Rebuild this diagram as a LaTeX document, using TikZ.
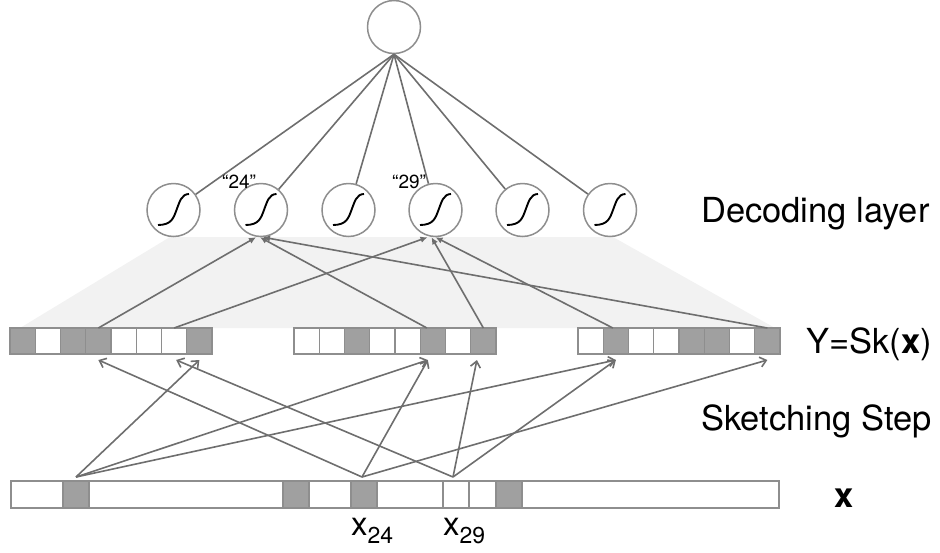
\documentclass[tikz,border=0pt]{standalone}
\usepackage{fontspec}
\setmainfont{TeX Gyre Heros}
\usetikzlibrary{arrows.meta}
\definecolor{lc}{HTML}{6E6E6E}
\definecolor{bc}{HTML}{8E8E8E}
\definecolor{cg}{HTML}{A0A0A0}
\definecolor{sh}{HTML}{F2F2F2}
\tikzset{
  wire/.style={draw=lc, line width=1.6pt},
  sarr/.style={wire, -{Straight Barb[length=6pt,width=10pt]}},
  darr/.style={wire, -{Latex[length=7pt,width=6.5pt]}},
  cell/.style={draw=bc, line width=1.4pt, minimum width=25.25pt, minimum height=26pt,
    inner sep=0pt, outer sep=0pt, anchor=north west},
  xcell/.style={cell, minimum height=27pt},
  neuron/.style={circle, draw=bc, line width=1.5pt, fill=white, minimum size=53pt, inner sep=0pt},
  lbl/.style={anchor=base west, inner sep=0pt, font=\fontsize{34.5}{40}\selectfont},
  qlbl/.style={anchor=base west, inner sep=0pt, font=\fontsize{19}{20}\selectfont},
  xlbl/.style={anchor=base west, inner sep=0pt, font=\fontsize{33}{34}\selectfont},
  sigm/.pic={\draw[black, line width=1.9pt] (-15.5pt,-15pt) .. controls (-2pt,-15pt) and (0pt,-8pt) .. (3pt,0pt) .. controls (6pt,8pt) and (8pt,16pt) .. (15.5pt,16pt);}
}
\begin{document}
\begin{tikzpicture}[x=1pt,y=-1pt]
\useasboundingbox (0,0) rectangle (940,552);
% shaded projection
\fill[sh] (20,328) -- (170,237) -- (613,237) -- (775,328) -- cycle;
% sketch cells
\foreach \i/\f in {1/cg,2/white,3/cg,4/cg,5/white,6/white,7/white,8/cg}
  \node[cell, fill=\f] (L\i) at ({10+(\i-1)*25.25},328) {};
\foreach \i/\f in {1/white,2/white,3/cg,4/white,5/white,6/cg,7/white,8/cg}
  \node[cell, fill=\f] (M\i) at ({294+(\i-1)*25.25},328) {};
\foreach \i/\f in {1/white,2/cg,3/white,4/white,5/cg,6/cg,7/white,8/cg}
  \node[cell, fill=\f] (R\i) at ({578+(\i-1)*25.25},328) {};
% x row
\node[xcell, fill=white, minimum width=52pt]  (X0)  at (11,481) {};
\node[xcell, fill=cg,    minimum width=26pt]  (X1)  at (63,481) {};
\node[xcell, fill=white, minimum width=194pt] (X2)  at (89,481) {};
\node[xcell, fill=cg,    minimum width=26pt]  (X3)  at (283,481) {};
\node[xcell, fill=white, minimum width=42pt]  (X4)  at (309,481) {};
\node[xcell, fill=cg,    minimum width=26pt]  (X5)  at (351,481) {};
\node[xcell, fill=white, minimum width=66pt]  (X6)  at (377,481) {};
\node[xcell, fill=white, minimum width=26pt]  (X7)  at (443,481) {};
\node[xcell, fill=white, minimum width=27pt]  (X8)  at (469,481) {};
\node[xcell, fill=cg,    minimum width=26pt]  (X9)  at (496,481) {};
\node[xcell, fill=white, minimum width=257pt] (X10) at (522,481) {};
% neurons
\node[neuron] (top) at (394,27) {};
\foreach \i/\x in {1/173.5,2/261,3/348.5,4/435.5,5/522.5,6/610}{
  \node[neuron] (s\i) at (\x,210) {};
  \pic at (s\i) {sigm};
}
\foreach \i in {1,...,6} \draw[wire] (top.south) -- (s\i);
% decoding arrows
\draw[darr] (L4.north) -- ([xshift=-5pt]s2.south);
\draw[darr] ([xshift=-6pt]M6.north) -- ([xshift=-1pt]s2.south);
\draw[darr] (R8.north) -- ([xshift=2pt]s2.south);
\draw[darr] (L7.north) -- ([xshift=-8pt]s4.south);
\draw[darr] (M8.north) -- ([xshift=-4pt]s4.south);
\draw[darr] ([xshift=-3pt]R2.north) -- ([xshift=0pt]s4.south);
% sketching arrows
\coordinate (a) at (76,477);
\coordinate (b) at (362,477);
\coordinate (c) at (453,477);
\draw[sarr] (a) -- ([yshift=-6pt]L8.south);
\draw[sarr] (a) -- ([xshift=-5pt,yshift=-6pt]M6.south);
\draw[sarr] (a) -- ([yshift=-6pt]R2.south);
\draw[sarr] (b) -- ([yshift=-6pt]L4.south);
\draw[sarr] (b) -- ([xshift=-5pt,yshift=-6pt]M6.south);
\draw[sarr] (b) -- ([yshift=-6pt]R8.south);
\draw[sarr] (c) -- ([xshift=2pt,yshift=-6pt]L7.south);
\draw[sarr] (c) -- ([xshift=-6.5pt,yshift=-6pt]M8.south);
\draw[sarr] (c) -- ([yshift=-6pt]R2.south);
% labels
\node[qlbl] (q24) at (222,188) {“24”};
\node[qlbl] (q29) at (392,188) {“29”};
\node[lbl] (dec) at (701,222) {Decoding layer};
\node[lbl] (sk) at (806,353) {Y=Sk(\textbf{x})};
\node[lbl] (step) at (701,430) {Sketching Step};
\node[lbl] (xl) at (834,507) {\textbf{x}};
\node[xlbl] (l24) at (351,535) {x\raisebox{-8pt}{\fontsize{23}{24}\selectfont 24}};
\node[xlbl] (l29) at (443,535) {x\raisebox{-8pt}{\fontsize{23}{24}\selectfont 29}};
\end{tikzpicture}
\end{document}
